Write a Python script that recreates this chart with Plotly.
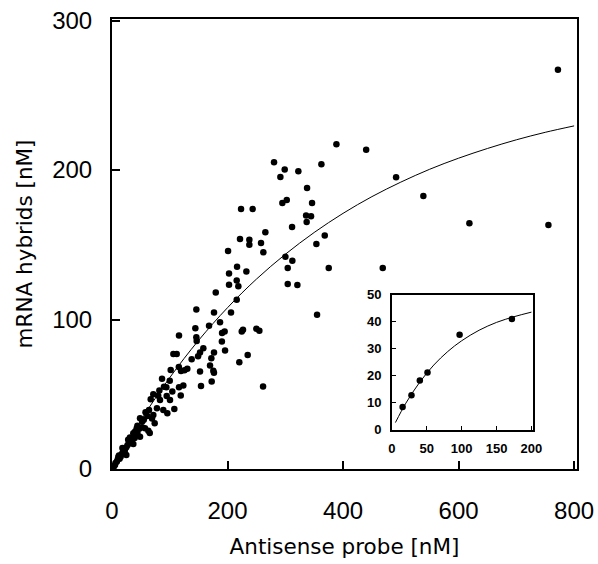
import plotly.graph_objects as go

# ---- main scatter data ----
main_x = [772, 388.5, 440, 280.5, 299, 291.5, 322.6, 362.5, 491.8, 337.7, 294.9, 302.5, 346.3, 539,
          336, 344.6, 337, 311.7, 618.7, 755.5, 368.3, 353.8, 265.5, 258, 262, 223.4, 243.6, 221.6,
          237.8, 237.8, 200.9, 300.2, 312.2, 304.2, 375.2, 468.7, 216.5, 232.6, 202.6, 215.9, 218.7,
          202.6, 304.2, 320.9, 179.6, 215.9, 355,
          146, 176.6, 206, 144.3, 168, 187, 116, 146, 146.6, 190.5, 195, 190.2, 224.6, 226.8, 249.9,
          255.1, 106.2, 112, 158.1, 152.4, 176.6, 172, 195.7, 220.4, 234.9, 101.6, 119.5, 125.5, 130.4,
          152.4, 169.7, 175.4, 137.9, 115.7, 86.6, 123.5, 116, 154.1, 172.6, 261.5, 94.1, 71.5, 94.7,
          104.4, 119, 67, 100.4, 83.1, 107.9, 88.8, 64.1, 95.8, 77.8, 48.5, 61.1, 71.5, 69.3, 73.9,
          52.3, 57.1, 42.8, 62.9, 65.4, 47.1, 36.9, 48.5, 34.1, 39.2, 36.9, 30.1, 24.8, 22.2, 19, 24.8,
          15, 13.1, 8.5, 5.2, 2.6, 0,
          149, 176.5, 10, 12, 17, 20, 27, 28, 31, 40, 44, 52, 55, 58, 80, 82, 90, 100, 44, 18, 6, 3, 11]
main_y = [267, 217.2, 213.6, 205.1, 200.4, 195.3, 199.1, 203.8, 195.1, 188, 177.9, 179.9, 177.9, 182.6,
          169.6, 169, 165.2, 161.8, 164.3, 163.2, 156.2, 150.5, 158.3, 151.1, 144.9, 173.9, 173.9, 153.8,
          153.4, 150, 145.8, 142, 139.3, 134.4, 134.4, 134.4, 135.3, 132.1, 130.8, 126.1, 122.3,
          123.2, 123.7, 123, 118.1, 113.2, 103.1,
          106.7, 104.7, 104.7, 94.2, 95.8, 98.2, 89.3, 88.2, 85.7, 90.9, 91.9, 85.2, 91.9, 93.1, 93.8,
          92.4, 77, 77, 80.8, 77.9, 77.9, 74.1, 79.2, 71.4, 76.3, 66.3, 65.6, 66.1, 67,
          65.2, 69.2, 65.8, 73.4, 68.3, 60.3, 55.8, 54.7, 55.6, 58.5, 55.1, 54.7, 50, 48.9,
          51.8, 49.1, 46.7, 46.2, 46.2, 40.2, 39.5, 39.5, 37.3, 40.7, 34, 35.5, 36.2, 33.7, 30.6,
          31.7, 27.2, 27.2, 25.6, 24, 26.9, 23.9, 21.6, 19.4, 20.8, 16.7, 17.2, 14.5, 12.3, 11.4, 9.4,
          8.2, 6.8, 5.1, 2.7, 1, 0,
          75.5, 64.4, 6.5, 9, 10, 13.5, 16, 19.5, 21, 25, 29, 28, 33, 38, 49, 52.5, 55, 59, 24, 14, 4, 2, 8]

# fitted curve
curve_x = [0, 50, 100, 150, 200, 250, 300, 350, 400, 450, 500, 550, 600, 650, 700, 750, 800]
curve_y = [0, 32.6, 61.1, 86.1, 107.9, 127.0, 143.6, 158.2, 171.0, 182.2, 191.9, 200.5, 207.9,
           214.4, 220.2, 225.2, 229.5]

# ---- inset data ----
inset_x = [15.3, 28, 40, 51, 97, 172]
inset_y = [8.5, 12.8, 18.3, 21.2, 35.2, 41.1]
inset_curve_x = [5, 20, 40, 60, 80, 100, 125, 150, 175, 200]
inset_curve_y = [2.7, 9.9, 17.7, 24.0, 29.0, 33.0, 36.9, 39.8, 41.9, 43.6]

main_xticks = [0, 200, 400, 600, 800]
main_yticks = [0, 100, 200, 300]
inset_xticks = [0, 50, 100, 150, 200]
inset_yticks = [0, 10, 20, 30, 40, 50]

FONT = "Liberation Sans, Arial, sans-serif"
TITLE_FONT = "DejaVu Sans, Liberation Sans, sans-serif"

fig = go.Figure()
fig.add_trace(go.Scatter(x=curve_x, y=curve_y, mode="lines", line=dict(color="black", width=1, shape="spline"),
                         showlegend=False))
fig.add_trace(go.Scatter(x=main_x, y=main_y, mode="markers", marker=dict(color="black", size=6.5),
                         showlegend=False))
fig.add_trace(go.Scatter(x=inset_curve_x, y=inset_curve_y, mode="lines", xaxis="x2", yaxis="y2",
                         line=dict(color="black", width=1, shape="spline"), showlegend=False))
fig.add_trace(go.Scatter(x=inset_x, y=inset_y, mode="markers", xaxis="x2", yaxis="y2",
                         marker=dict(color="black", size=6.5), showlegend=False))

fig.update_layout(
    width=598, height=564,
    margin=dict(l=112, r=21, t=19, b=95),
    paper_bgcolor="white", plot_bgcolor="white",
    font=dict(family=FONT, color="black"),
    xaxis=dict(range=[0, 805], tickvals=main_xticks, ticks="inside", ticklen=8, tickwidth=1.5,
               tickcolor="black", showline=True, mirror=True, linewidth=2, linecolor="black",
               showgrid=False, zeroline=False, tickfont=dict(size=24), ticklabelstandoff=19,
               title=dict(text="Antisense probe [nM]", font=dict(size=21.5, family=TITLE_FONT), standoff=16),
               automargin=False),
    yaxis=dict(range=[0, 301], tickvals=main_yticks, ticks="inside", ticklen=8, tickwidth=1.5,
               tickcolor="black", showline=True, mirror=True, linewidth=2, linecolor="black",
               showgrid=False, zeroline=False, tickfont=dict(size=24), ticklabelstandoff=13,
               title=dict(text="mRNA hybrids [nM]", font=dict(size=21.5, family=TITLE_FONT), standoff=14),
               automargin=False),
    xaxis2=dict(domain=[0.602, 0.905], anchor="y2", range=[0, 202], tickvals=inset_xticks,
                ticks="inside", ticklen=4, tickcolor="black", showline=True, mirror=True,
                linewidth=1.5, linecolor="black", showgrid=False, zeroline=False,
                tickfont=dict(size=13, weight="bold"), ticklabelstandoff=6),
    yaxis2=dict(domain=[0.087, 0.387], anchor="x2", range=[0, 50], tickvals=inset_yticks,
                ticks="inside", ticklen=4, tickcolor="black", showline=True, mirror=True,
                linewidth=1.5, linecolor="black", showgrid=False, zeroline=False,
                tickfont=dict(size=13, weight="bold"), ticklabelstandoff=6),
)

fig.write_html("out.html", config={"displayModeBar": False},
               post_script="document.body.style.margin='0';document.body.style.overflow='hidden';")
